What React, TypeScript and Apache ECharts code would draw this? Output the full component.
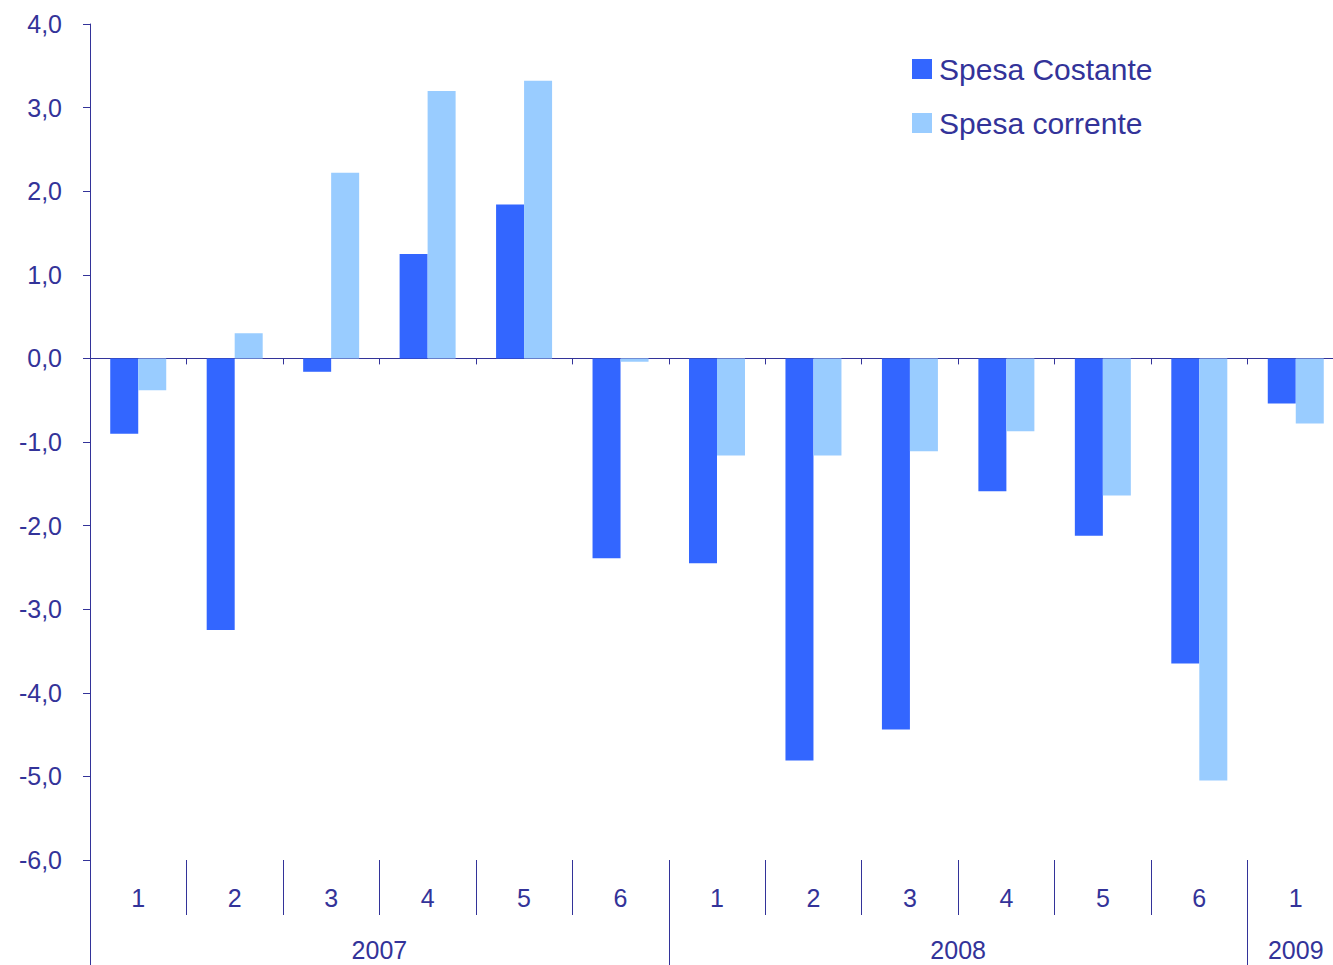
import React, { useEffect, useRef } from "react";
import * as echarts from "echarts";

const months = ["1", "2", "3", "4", "5", "6", "1", "2", "3", "4", "5", "6", "1"];
const years = ["2007", "2008", "2009"];
const yearCounts = [6, 6, 1];
const spesaCostante = [-0.9, -3.25, -0.16, 1.25, 1.84, -2.39, -2.45, -4.81, -4.44, -1.59, -2.12, -3.65, -0.54];
const spesaCorrente = [-0.38, 0.3, 2.22, 3.2, 3.32, -0.04, -1.16, -1.16, -1.11, -0.87, -1.64, -5.05, -0.78];
const yTicks = { min: -6, max: 4, step: 1 };

const TEXT = "#333399";

export default function App() {
  const ref = useRef<HTMLDivElement>(null);
  useEffect(() => {
    if (!ref.current) return;
    const chart = echarts.init(ref.current, null, { renderer: "svg" });
    const yearBounds: number[] = [0];
    const yearCenters: number[] = [];
    let acc = 0;
    yearCounts.forEach((c) => {
      yearCenters.push(acc + c / 2);
      acc += c;
      yearBounds.push(acc);
    });
    const font = "Liberation Sans, Arial, sans-serif";
    chart.setOption({
      animation: false,
      textStyle: { fontFamily: font },
      grid: { left: 90, top: 24, bottom: 105, right: 0, containLabel: false },
      legend: {
        orient: "vertical",
        left: 907,
        top: 49,
        itemWidth: 20,
        itemHeight: 20,
        itemGap: 24,
        icon: "rect",
        textStyle: { color: TEXT, fontSize: 30, fontFamily: font, padding: [0, 0, 0, 2] },
        data: ["Spesa Costante", "Spesa corrente"],
      },
      xAxis: [
        {
          type: "category",
          data: months,
          position: "top",
          axisLine: { onZero: true, lineStyle: { color: TEXT, width: 1 } },
          axisTick: { show: true, inside: true, length: 6, lineStyle: { color: TEXT } },
          axisLabel: { show: false },
          splitLine: { show: false },
        },
        {
          type: "category",
          data: months,
          position: "bottom",
          axisLine: { show: false, onZero: false },
          axisTick: { show: true, length: 55, lineStyle: { color: TEXT } },
          axisLabel: { show: true, color: TEXT, fontSize: 25, margin: 25, fontFamily: font },
          splitLine: { show: false },
        },
        {
          type: "value",
          min: 0,
          max: months.length,
          position: "bottom",
          axisLine: { show: false, onZero: false },
          axisTick: { show: true, length: 105, customValues: yearBounds, lineStyle: { color: TEXT } },
          axisLabel: {
            show: true,
            color: TEXT,
            fontSize: 25,
            margin: 77,
            fontFamily: font,
            customValues: yearCenters,
            formatter: (v: number) => {
              const i = yearCenters.findIndex((c) => Math.abs(c - v) < 1e-6);
              return i >= 0 ? years[i] : "";
            },
          },
          splitLine: { show: false },
        },
      ],
      yAxis: {
        type: "value",
        min: yTicks.min,
        max: yTicks.max,
        interval: yTicks.step,
        axisLine: { show: true, lineStyle: { color: TEXT } },
        axisTick: { show: true, length: 7, lineStyle: { color: TEXT } },
        axisLabel: {
          color: TEXT,
          fontSize: 25,
          margin: 28,
          fontFamily: font,
          formatter: (v: number) => v.toFixed(1).replace(".", ","),
        },
        splitLine: { show: false },
      },
      series: [
        {
          name: "Spesa Costante",
          type: "bar",
          xAxisIndex: 0,
          data: spesaCostante,
          barWidth: 28,
          barGap: "0%",
          itemStyle: { color: "#3366FF" },
        },
        {
          name: "Spesa corrente",
          type: "bar",
          xAxisIndex: 0,
          data: spesaCorrente,
          barWidth: 28,
          barGap: "0%",
          itemStyle: { color: "#99CCFF" },
        },
      ],
    });
    return () => chart.dispose();
  }, []);
  return (
    <div
      style={{ position: "absolute", left: 0, top: 0, width: 1333, height: 965, overflow: "hidden", background: "#fff" }}
    >
      <div ref={ref} style={{ width: 1344, height: 965 }} />
    </div>
  );
}
